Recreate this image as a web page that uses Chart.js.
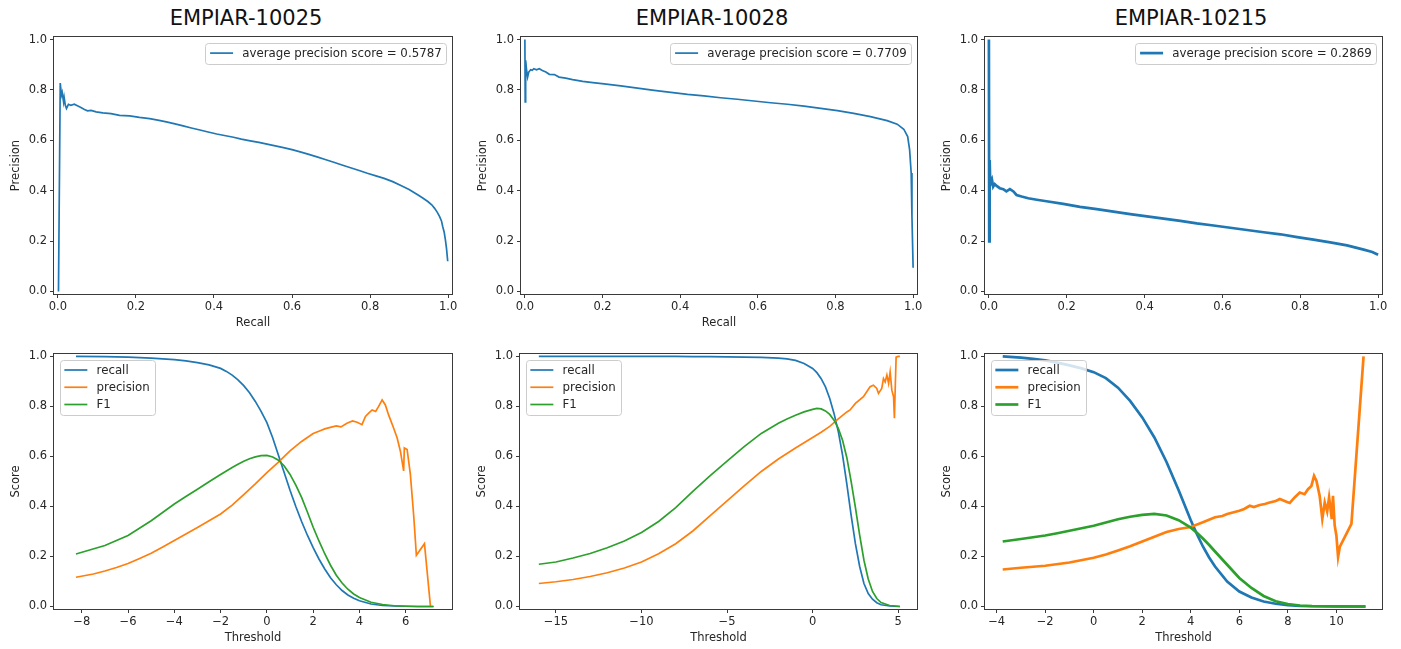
<!DOCTYPE html>
<html>
<head>
<meta charset="utf-8">
<title>EMPIAR precision / recall</title>
<script src="https://cdn.jsdelivr.net/npm/chart.js@4.4.1/dist/chart.umd.min.js"></script>
<style>
  html, body { margin: 0; padding: 0; background: #fff; }
  #figure { position: relative; width: 1401px; height: 649px; overflow: hidden; font-family: "DejaVu Sans", sans-serif; }
  #figure canvas { position: absolute; }
  .panel-title { position: absolute; top: 8px; width: 300px; margin-left: -150px; text-align: center; font-size: 21px; line-height: 21px; color: #111; }
</style>
</head>
<body>
<div id="figure">
  <div class="panel-title" style="left:246px">EMPIAR-10025</div>
  <div class="panel-title" style="left:712px">EMPIAR-10028</div>
  <div class="panel-title" style="left:1191px">EMPIAR-10215</div>

  <canvas id="pr10025" width="460" height="332" style="left:4px;top:0px"></canvas>
  <canvas id="pr10028" width="458" height="332" style="left:471px;top:0px"></canvas>
  <canvas id="pr10215" width="459" height="332" style="left:935px;top:0px"></canvas>

  <canvas id="th10025" width="460" height="303" style="left:4px;top:344px"></canvas>
  <canvas id="th10028" width="459" height="303" style="left:470px;top:344px"></canvas>
  <canvas id="th10215" width="459" height="303" style="left:935px;top:344px"></canvas>
</div>

<script>
/* ===== PR CURVES (recall -> precision) ===== */
const prRecall10025 = [
  0.0015, 0.006, 0.009, 0.011, 0.0145, 0.016, 0.019, 0.022, 0.027, 0.033,
  0.042, 0.05, 0.059, 0.068, 0.076, 0.085, 0.098, 0.115, 0.136, 0.158,
  0.184, 0.209, 0.235, 0.256, 0.278, 0.3, 0.321, 0.342, 0.364, 0.385,
  0.407, 0.43, 0.45, 0.47, 0.493, 0.515, 0.536, 0.557, 0.578, 0.6,
  0.621, 0.643, 0.664, 0.685, 0.707, 0.728, 0.75, 0.772, 0.793, 0.815,
  0.836, 0.858, 0.879, 0.9, 0.922, 0.935, 0.948, 0.958, 0.965, 0.972,
  0.978, 0.983, 0.986, 0.99, 0.993, 0.996, 0.999
];
const prPrecision10025 = [
  0.0, 0.827, 0.779, 0.79, 0.752, 0.77, 0.739, 0.726, 0.743, 0.739,
  0.743, 0.737, 0.73, 0.722, 0.717, 0.719, 0.713, 0.709, 0.706, 0.699,
  0.697, 0.691, 0.686, 0.68, 0.673, 0.665, 0.657, 0.649, 0.641, 0.633,
  0.625, 0.618, 0.612, 0.605, 0.598, 0.592, 0.585, 0.578, 0.571, 0.563,
  0.554, 0.544, 0.534, 0.524, 0.513, 0.502, 0.491, 0.48, 0.469, 0.459,
  0.449, 0.436, 0.421, 0.405, 0.384, 0.371, 0.357, 0.344, 0.331, 0.315,
  0.298, 0.28, 0.259, 0.235, 0.206, 0.17, 0.12
];

const prRecall10028 = [
  0.0, 0.0008, 0.002, 0.004, 0.007, 0.01, 0.015, 0.019, 0.023, 0.03,
  0.037, 0.045, 0.054, 0.063, 0.076, 0.088, 0.105, 0.123, 0.149, 0.175,
  0.204, 0.247, 0.29, 0.333, 0.376, 0.419, 0.461, 0.504, 0.547, 0.59,
  0.633, 0.676, 0.719, 0.762, 0.805, 0.847, 0.89, 0.933, 0.959, 0.976,
  0.986, 0.991, 0.995, 0.997, 1.0
];
const prPrecision10028 = [
  1.0, 0.752, 0.917, 0.884, 0.851, 0.871, 0.88, 0.878, 0.884, 0.88,
  0.884, 0.877, 0.871, 0.862, 0.861, 0.851, 0.847, 0.841, 0.834, 0.829,
  0.824, 0.816, 0.807, 0.798, 0.79, 0.782, 0.776, 0.769, 0.763, 0.756,
  0.749, 0.743, 0.736, 0.727, 0.718, 0.707, 0.694, 0.678, 0.664, 0.644,
  0.615, 0.562, 0.47, 0.298, 0.094
];

const prRecall10215 = [
  0.0, 0.0008, 0.002, 0.003, 0.005, 0.008, 0.011, 0.015, 0.02, 0.028,
  0.037, 0.045, 0.054, 0.063, 0.071, 0.084, 0.101, 0.123, 0.148, 0.191,
  0.234, 0.277, 0.32, 0.363, 0.406, 0.449, 0.492, 0.534, 0.577, 0.62,
  0.663, 0.706, 0.749, 0.792, 0.834, 0.877, 0.92, 0.963, 0.985, 1.0
];
const prPrecision10215 = [
  1.0, 0.199, 0.522, 0.456, 0.43, 0.443, 0.416, 0.426, 0.419, 0.41,
  0.406, 0.397, 0.406, 0.397, 0.383, 0.377, 0.37, 0.364, 0.358, 0.348,
  0.336, 0.327, 0.317, 0.307, 0.298, 0.289, 0.28, 0.27, 0.262, 0.253,
  0.244, 0.235, 0.227, 0.216, 0.206, 0.195, 0.183, 0.166, 0.157, 0.146
];

/* ===== SCORE vs THRESHOLD ===== */
// recall + F1 share one threshold grid, precision has its own (noisy tail)
const thr10025 = [
  -8.25, -7, -6, -5, -4, -3.5, -3, -2.5, -2, -1.75,
  -1.5, -1.25, -1, -0.75, -0.5, -0.25, 0, 0.25, 0.5, 0.75,
  1, 1.25, 1.5, 1.75, 2, 2.25, 2.5, 2.75, 3, 3.25,
  3.5, 3.75, 4, 4.5, 5, 5.5, 6, 6.5, 7.2
];
const recall10025 = [
  1.0, 0.999, 0.997, 0.993, 0.987, 0.982, 0.975, 0.966, 0.952, 0.94,
  0.925, 0.906, 0.883, 0.855, 0.82, 0.78, 0.735, 0.675, 0.605, 0.535,
  0.465, 0.4, 0.34, 0.285, 0.235, 0.19, 0.15, 0.115, 0.087, 0.064,
  0.046, 0.033, 0.023, 0.01, 0.004, 0.002, 0.001, 0.0, 0.0
];
const f1_10025 = [
  0.21, 0.244, 0.284, 0.343, 0.41, 0.44, 0.469, 0.499, 0.528, 0.542,
  0.556, 0.569, 0.581, 0.591, 0.598, 0.603, 0.604, 0.598, 0.585, 0.562,
  0.528, 0.485, 0.436, 0.378, 0.317, 0.262, 0.211, 0.165, 0.125, 0.094,
  0.069, 0.05, 0.036, 0.017, 0.008, 0.003, 0.001, 0.0, 0.0
];
const precThr10025 = [
  -8.25, -7.5, -7, -6.5, -6, -5.5, -5, -4.5, -4, -3.5,
  -3, -2.5, -2, -1.5, -1, -0.5, 0, 0.5, 1, 1.5,
  2, 2.3, 2.5, 2.74, 3.0, 3.2, 3.46, 3.7, 3.9, 4.11,
  4.26, 4.4, 4.55, 4.7, 4.83, 4.98, 5.12, 5.26, 5.48, 5.63,
  5.77, 5.91, 5.94, 6.06, 6.2, 6.35, 6.46, 6.81, 7.07
];
const precision10025 = [
  0.117, 0.13, 0.142, 0.156, 0.172, 0.192, 0.213, 0.238, 0.264, 0.29,
  0.316, 0.343, 0.37, 0.405, 0.447, 0.49, 0.535, 0.577, 0.622, 0.66,
  0.692, 0.703, 0.71, 0.716, 0.722, 0.718, 0.733, 0.742, 0.737, 0.727,
  0.76, 0.773, 0.786, 0.78, 0.8, 0.826, 0.806, 0.766, 0.713, 0.674,
  0.621, 0.542, 0.634, 0.628, 0.529, 0.357, 0.205, 0.251, 0.0
];

const thr10028 = [
  -16, -15, -14, -13, -12, -11, -10, -9, -8, -7,
  -6, -5, -4, -3, -2, -1.5, -1, -0.5, 0, 0.25,
  0.5, 0.75, 1, 1.25, 1.5, 1.75, 2, 2.25, 2.5, 2.75,
  3, 3.25, 3.5, 3.75, 4, 4.5, 5.1
];
const recall10028 = [
  1.0, 1.0, 1.0, 1.0, 1.0, 1.0, 1.0, 1.0, 1.0, 0.999,
  0.999, 0.998, 0.997, 0.996, 0.993, 0.99, 0.984, 0.972, 0.952, 0.935,
  0.911, 0.878, 0.832, 0.772, 0.7, 0.605, 0.489, 0.365, 0.251, 0.16,
  0.092, 0.052, 0.029, 0.015, 0.007, 0.002, 0.0
];
const f1_10028 = [
  0.169, 0.178, 0.194, 0.212, 0.235, 0.262, 0.296, 0.34, 0.395, 0.46,
  0.522, 0.581, 0.639, 0.692, 0.733, 0.75, 0.765, 0.778, 0.788, 0.792,
  0.79, 0.782, 0.768, 0.745, 0.712, 0.665, 0.595, 0.5, 0.396, 0.285,
  0.185, 0.11, 0.06, 0.032, 0.016, 0.004, 0.0
];
const precThr10028 = [
  -16, -15, -14, -13, -12, -11, -10, -9, -8, -7,
  -6, -5, -4, -3, -2, -1, 0, 0.5, 1, 1.5,
  2, 2.19, 2.5, 2.97, 3.36, 3.55, 3.75, 3.85, 4.04, 4.14,
  4.24, 4.34, 4.44, 4.53, 4.63, 4.73, 4.78, 4.84, 4.88, 5.0,
  5.1
];
const precision10028 = [
  0.092, 0.099, 0.108, 0.12, 0.135, 0.154, 0.178, 0.211, 0.251, 0.302,
  0.362, 0.422, 0.482, 0.54, 0.59, 0.634, 0.676, 0.697, 0.72, 0.75,
  0.778, 0.786, 0.812, 0.839, 0.879, 0.885, 0.872, 0.852, 0.872, 0.911,
  0.898, 0.925, 0.892, 0.938, 0.865, 0.839, 0.753, 0.905, 0.997, 1.0,
  1.0
];

const thr10215 = [
  -3.75, -3, -2.5, -2, -1.5, -1, -0.5, 0, 0.5, 1,
  1.5, 2, 2.5, 3, 3.5, 4, 4.25, 4.5, 4.75, 5,
  5.5, 6, 6.5, 7, 7.5, 8, 8.5, 9, 10, 11.2
];
const recall10215 = [
  1.0, 0.995, 0.99, 0.984, 0.975, 0.964, 0.952, 0.937, 0.913, 0.875,
  0.822, 0.756, 0.676, 0.578, 0.465, 0.345, 0.29, 0.24, 0.197, 0.16,
  0.1, 0.06, 0.036, 0.02, 0.011, 0.005, 0.002, 0.001, 0.0, 0.0
];
const f1_10215 = [
  0.26, 0.27, 0.277, 0.284, 0.293, 0.303, 0.313, 0.323, 0.336, 0.349,
  0.359, 0.366, 0.37, 0.364, 0.345, 0.315, 0.295, 0.272, 0.247, 0.22,
  0.167, 0.114, 0.074, 0.042, 0.021, 0.01, 0.004, 0.002, 0.001, 0.0
];
const precThr10215 = [
  -3.75, -3, -2, -1, 0, 0.5, 1, 1.5, 2, 2.5,
  3, 3.5, 4, 4.5, 5, 5.3, 5.5, 6, 6.2, 6.43,
  6.6, 6.84, 7.05, 7.25, 7.5, 7.67, 7.94, 8.08, 8.28, 8.49,
  8.69, 8.83, 8.97, 9.08, 9.18, 9.31, 9.42, 9.52, 9.62, 9.7,
  9.81, 9.86, 9.93, 10.0, 10.07, 10.14, 10.62, 11.12
];
const precision10215 = [
  0.148, 0.155, 0.163, 0.176, 0.195, 0.208, 0.224, 0.241, 0.26, 0.279,
  0.298, 0.31, 0.318, 0.337, 0.357, 0.362, 0.37, 0.383, 0.39, 0.403,
  0.398, 0.406, 0.41, 0.416, 0.422, 0.43, 0.419, 0.414, 0.436, 0.456,
  0.449, 0.469, 0.482, 0.522, 0.502, 0.443, 0.35, 0.416, 0.38, 0.436,
  0.35, 0.443, 0.324, 0.284, 0.198, 0.238, 0.33, 1.0
];

/* ===== TICKS ===== */
const unitTicks = [0, 0.2, 0.4, 0.6, 0.8, 1.0];
const thrTicks10025 = [-8, -6, -4, -2, 0, 2, 4, 6];
const thrTicks10028 = [-15, -10, -5, 0, 5];
const thrTicks10215 = [-4, -2, 0, 2, 4, 6, 8, 10];

const FONT = "'DejaVu Sans', sans-serif";
const INK = "#262626";
const SPINE = "#3a3a3a";
const C_RECALL = "#1f77b4";
const C_PREC = "#ff7f0e";
const C_F1 = "#2ca02c";

function toPoints(xs, ys) {
  return xs.map((x, i) => ({ x: x, y: ys[i] }));
}

function fmtDec(v) {
  return v.toFixed(1);
}
function fmtInt(v) {
  return v < 0 ? "\u2212" + Math.abs(v) : String(v);
}

// box round the plot like matplotlib spines
const framePlugin = {
  id: "frame",
  afterDatasetsDraw(chart) {
    const a = chart.chartArea;
    const ctx = chart.ctx;
    ctx.save();
    ctx.strokeStyle = SPINE;
    ctx.lineWidth = 1;
    ctx.strokeRect(Math.round(a.left) - 0.5, Math.round(a.top) - 0.5,
      Math.round(a.right - a.left) + 1, Math.round(a.bottom - a.top) + 1);
    ctx.restore();
  }
};

// matplotlib style legend (line handle + label, light rounded frame)
const mplLegend = {
  id: "mplLegend",
  afterDatasetsDraw(chart, args, opts) {
    const ctx = chart.ctx;
    const a = chart.chartArea;
    const em = 11.5;
    const fs = 11.8;
    const items = chart.data.datasets;
    ctx.save();
    ctx.font = fs + "px " + FONT;
    const textW = Math.max.apply(null, items.map((d) => ctx.measureText(d.label).width));
    const pad = 0.4 * em, handle = 2 * em, gap = 0.8 * em, spacing = 0.5 * em;
    const w = pad * 2 + handle + gap + textW;
    const h = pad * 2 + items.length * em + (items.length - 1) * spacing;
    const x = opts.corner === "right" ? a.right - 0.5 * em - w : a.left + 0.5 * em;
    const y = a.top + 0.5 * em;

    ctx.beginPath();
    ctx.roundRect(Math.round(x) + 0.5, Math.round(y) + 0.5, Math.round(w), Math.round(h), 3);
    ctx.fillStyle = "rgba(255,255,255,0.8)";
    ctx.fill();
    ctx.strokeStyle = "#cccccc";
    ctx.lineWidth = 1;
    ctx.stroke();

    items.forEach((d, i) => {
      const cy = y + pad + i * (em + spacing) + em / 2;
      ctx.strokeStyle = d.borderColor;
      ctx.lineWidth = d.borderWidth;
      ctx.beginPath();
      ctx.moveTo(x + pad, cy);
      ctx.lineTo(x + pad + handle, cy);
      ctx.stroke();
      ctx.fillStyle = INK;
      ctx.textBaseline = "middle";
      ctx.textAlign = "left";
      ctx.fillText(d.label, x + pad + handle + gap, cy + 0.5);
    });
    ctx.restore();
  }
};

function axis(min, max, ticks, title, fmt, isX) {
  return {
    type: "linear",
    min: min,
    max: max,
    afterBuildTicks: (s) => { s.ticks = ticks.map((v) => ({ value: v })); },
    afterFit: (s) => { if (isX) { s.height = 38; } else { s.width = 50; } },
    grid: { drawOnChartArea: false, drawTicks: true, tickLength: 4, tickColor: SPINE, lineWidth: 1 },
    border: { display: false },
    ticks: {
      autoSkip: false, maxRotation: 0, padding: isX ? 2 : 3,
      color: INK, font: { family: FONT, size: 11.5 },
      callback: (v) => fmt(v)
    },
    title: {
      display: !!title, text: title || "", color: INK,
      font: { family: FONT, size: 11.5 },
      padding: isX ? { top: 0, bottom: 2 } : { top: 5, bottom: 0 }
    }
  };
}

function line(label, xs, ys, color, width, order) {
  return {
    label: label,
    data: toPoints(xs, ys),
    borderColor: color,
    backgroundColor: color,
    borderWidth: width,
    pointRadius: 0,
    fill: false,
    tension: 0,
    order: order
  };
}

function makePanel(id, datasets, xAxis, yAxis, corner, padTop) {
  new Chart(document.getElementById(id), {
    type: "line",
    data: { datasets: datasets },
    options: {
      responsive: false,
      animation: false,
      events: [],
      layout: { padding: { top: padTop, right: 12, left: 0, bottom: 0 } },
      scales: { x: xAxis, y: yAxis },
      plugins: {
        legend: { display: false },
        tooltip: { enabled: false },
        mplLegend: { corner: corner }
      }
    },
    plugins: [framePlugin, mplLegend]
  });
}

document.addEventListener("DOMContentLoaded", function () {
  /* ===== TOP ROW: PRECISION / RECALL ===== */
  makePanel("pr10025",
    [line("average precision score = 0.5787", prRecall10025, prPrecision10025, C_RECALL, 1.7, 0)],
    axis(-0.01, 1.01, unitTicks, "Recall", fmtDec, true),
    axis(-0.01, 1.01, unitTicks, "Precision", fmtDec, false),
    "right", 37);

  makePanel("pr10028",
    [line("average precision score = 0.7709", prRecall10028, prPrecision10028, C_RECALL, 1.7, 0)],
    axis(-0.01, 1.01, unitTicks, "Recall", fmtDec, true),
    axis(-0.01, 1.01, unitTicks, "Precision", fmtDec, false),
    "right", 37);

  makePanel("pr10215",
    [line("average precision score = 0.2869", prRecall10215, prPrecision10215, C_RECALL, 2.7, 0)],
    axis(-0.01, 1.01, unitTicks, "", fmtDec, true),
    axis(-0.01, 1.01, unitTicks, "Precision", fmtDec, false),
    "right", 37);

  /* ===== BOTTOM ROW: SCORE vs THRESHOLD ===== */
  makePanel("th10025",
    [
      line("recall", thr10025, recall10025, C_RECALL, 1.7, 2),
      line("precision", precThr10025, precision10025, C_PREC, 1.7, 1),
      line("F1", thr10025, f1_10025, C_F1, 1.7, 0)
    ],
    axis(-9.2, 8.0, thrTicks10025, "Threshold", fmtInt, true),
    axis(-0.01, 1.01, unitTicks, "Score", fmtDec, false),
    "left", 8);

  makePanel("th10028",
    [
      line("recall", thr10028, recall10028, C_RECALL, 1.7, 2),
      line("precision", precThr10028, precision10028, C_PREC, 1.7, 1),
      line("F1", thr10028, f1_10028, C_F1, 1.7, 0)
    ],
    axis(-17.1, 6.1, thrTicks10028, "Threshold", fmtInt, true),
    axis(-0.01, 1.01, unitTicks, "Score", fmtDec, false),
    "left", 8);

  makePanel("th10215",
    [
      line("recall", thr10215, recall10215, C_RECALL, 2.7, 2),
      line("precision", precThr10215, precision10215, C_PREC, 2.7, 1),
      line("F1", thr10215, f1_10215, C_F1, 2.7, 0)
    ],
    axis(-4.48, 11.88, thrTicks10215, "Threshold", fmtInt, true),
    axis(-0.01, 1.01, unitTicks, "Score", fmtDec, false),
    "left", 8);
});
</script>
</body>
</html>
